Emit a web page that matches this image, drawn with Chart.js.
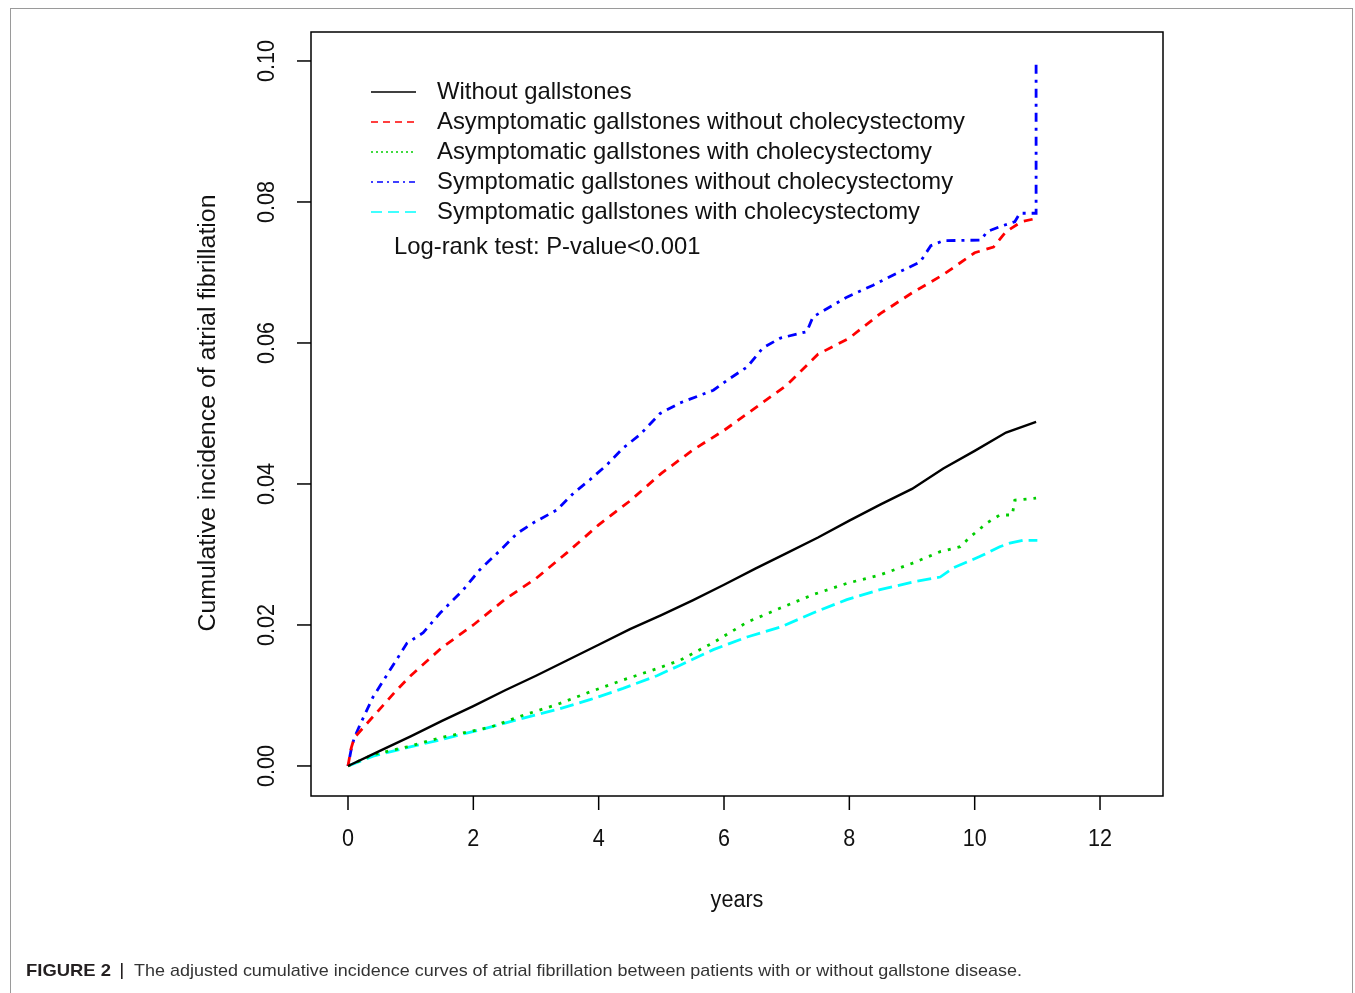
<!DOCTYPE html>
<html>
<head>
<meta charset="utf-8">
<script src="https://cdn.jsdelivr.net/npm/chart.js@4/dist/chart.umd.min.js"></script>
<style>
html,body{margin:0;padding:0;background:#fff;}
#c{position:absolute;left:0;top:0;}
</style>
</head>
<body>
<canvas id="c" width="1355" height="993"></canvas>
<script>
// ---- data ----
const seriesNames = [
  "Without gallstones",
  "Asymptomatic gallstones without cholecystectomy",
  "Asymptomatic gallstones with cholecystectomy",
  "Symptomatic gallstones without cholecystectomy",
  "Symptomatic gallstones with cholecystectomy"
];
const blackX = [0,0.5,1,1.5,2,2.5,3,3.5,4,4.5,5,5.5,6,6.5,7,7.5,8,8.5,9,9.5,10,10.5,10.98];
const blackY = [0,0.0021,0.0042,0.0064,0.0085,0.0107,0.0128,0.0150,0.0172,0.0194,0.0214,0.0235,0.0257,0.0280,0.0302,0.0324,0.0348,0.0371,0.0393,0.0422,0.0447,0.0473,0.0488];

const redX = [0,0.05,0.1,0.25,0.5,0.75,1,1.5,2,2.5,3,3.5,4,4.5,5,5.5,6,6.5,7,7.5,8,8.5,9,9.5,10,10.3,10.5,10.75,11];
const redY = [0,0.0025,0.004,0.0055,0.0080,0.0105,0.0128,0.0168,0.0200,0.0236,0.0266,0.0303,0.0342,0.0376,0.0415,0.0448,0.0476,0.0508,0.0540,0.0584,0.0607,0.0642,0.0671,0.0697,0.0728,0.0736,0.0758,0.0772,0.0777];

const greenX = [0,0.4,0.94,1.47,2.27,2.8,3.33,3.86,4.39,4.93,5.3,5.83,6.37,6.9,7.42,7.96,8.49,9.02,9.45,9.77,9.93,10.2,10.4,10.6,10.64,10.98];
const greenY = [0,0.0016,0.0027,0.004,0.0055,0.0072,0.0087,0.0105,0.0122,0.0138,0.0150,0.0175,0.0204,0.0224,0.0243,0.0259,0.0271,0.0288,0.0304,0.0311,0.0325,0.0345,0.0356,0.0356,0.0377,0.0380];

const blueX = [0,0.05,0.1,0.2,0.4,0.67,0.94,1.2,1.47,1.84,2.1,2.43,2.7,2.96,3.33,3.6,3.86,4.13,4.39,4.66,4.98,5.3,5.83,6.1,6.37,6.62,6.9,7.32,7.42,7.96,8.38,8.76,9.13,9.3,9.5,10.1,10.2,10.4,10.64,10.72,10.98,10.98];
const blueY = [0,0.0023,0.004,0.006,0.0098,0.0136,0.0174,0.0189,0.0217,0.025,0.0278,0.0306,0.033,0.0345,0.0363,0.0387,0.0406,0.0427,0.0451,0.047,0.050,0.0515,0.0533,0.055,0.0566,0.0593,0.0607,0.0616,0.0637,0.0665,0.0682,0.0699,0.0715,0.0738,0.0745,0.0746,0.0758,0.0765,0.0772,0.0784,0.0784,0.1003];

const cyanX = [0,0.4,0.94,1.47,2.27,2.8,3.33,3.86,4.39,4.93,5.3,5.83,6.37,6.9,7.42,7.96,8.49,9.02,9.45,9.66,10.08,10.4,10.56,10.77,11.0];
const cyanY = [0,0.0014,0.0026,0.0037,0.0055,0.0068,0.008,0.0094,0.011,0.0128,0.0143,0.0165,0.0183,0.0197,0.0217,0.0236,0.025,0.0261,0.0268,0.0281,0.0297,0.0311,0.0316,0.032,0.032];

const xTicks = [0,2,4,6,8,10,12];
const xTickLabels = ["0","2","4","6","8","10","12"];
const yTicks = [0,0.02,0.04,0.06,0.08,0.10];
const yTickLabels = ["0.00","0.02","0.04","0.06","0.08","0.10"];
const xTitle = "years";
const yTitle = "Cumulative incidence of atrial fibrillation";
const testText = "Log-rank test: P-value<0.001";
const captionBold = "FIGURE 2";
const captionText = "The adjusted cumulative incidence curves of atrial fibrillation between patients with or without gallstone disease.";

// ---- styles ----
const colors = ["#000000","#ff0000","#00cd00","#0000ff","#00ffff"];
const dashes = [[],[9,7],[3,7],[3,6,9,6],[14,6]];
const legendDashes = [[],[7,5],[2,3],[2,4,6,4],[11,6]];
const FONT = '"Liberation Sans", Arial, sans-serif';

function pts(xs, ys){ return xs.map((x,i)=>({x:x,y:ys[i]})); }
const seriesX = [blackX, redX, greenX, blueX, cyanX];
const seriesY = [blackY, redY, greenY, blueY, cyanY];
const datasets = seriesNames.map((n,i)=>({
  label:n,
  data: pts(seriesX[i], seriesY[i]),
  borderColor: colors[i],
  borderWidth: i===0 ? 2.4 : 2.8,
  borderDash: dashes[i],
  pointRadius: 0,
  tension: 0,
  fill: false
}));

function fitText(ctx, s, x, y, size, sx, align, bold){
  ctx.save();
  ctx.font = (bold?'bold ':'') + size + 'px ' + FONT;
  ctx.textBaseline = 'middle';
  ctx.textAlign = 'left';
  const w = ctx.measureText(s).width * sx;
  let x0 = x;
  if (align === 'center') x0 = x - w/2;
  else if (align === 'right') x0 = x - w;
  ctx.translate(x0, y);
  ctx.scale(sx, 1);
  ctx.fillText(s, 0, 0);
  ctx.restore();
  return w;
}
function widthScale(ctx, s, size, target, bold){
  ctx.save();
  ctx.font = (bold?'bold ':'') + size + 'px ' + FONT;
  const w = ctx.measureText(s).width;
  ctx.restore();
  return target / w;
}

const decor = {
  id:'decor',
  afterDraw(chart){
    const ctx = chart.ctx;
    const xs = chart.scales.x, ys = chart.scales.y;
    const a = chart.chartArea;
    ctx.save();
    // outer figure frame
    ctx.strokeStyle = '#9a9a9a';
    ctx.lineWidth = 1;
    ctx.strokeRect(10.5, 8.5, 1342, 1000);
    // plot box
    ctx.strokeStyle = '#000';
    ctx.lineWidth = 1.5;
    ctx.strokeRect(a.left, a.top, a.right - a.left, a.bottom - a.top);
    // x ticks
    ctx.fillStyle = '#111';
    const tickSx = widthScale(ctx, "10", 23, 24);
    xTicks.forEach((t,i)=>{
      const px = xs.getPixelForValue(t);
      ctx.beginPath(); ctx.moveTo(px, a.bottom); ctx.lineTo(px, a.bottom + 14); ctx.stroke();
      fitText(ctx, xTickLabels[i], px, 840, 23, tickSx, 'center');
    });
    // y ticks (rotated labels)
    yTicks.forEach((t,i)=>{
      const py = ys.getPixelForValue(t);
      ctx.beginPath(); ctx.moveTo(a.left - 14, py); ctx.lineTo(a.left, py); ctx.stroke();
      ctx.save();
      ctx.translate(268, py);
      ctx.rotate(-Math.PI/2);
      fitText(ctx, yTickLabels[i], 0, 0, 23, tickSx, 'center');
      ctx.restore();
    });
    // axis titles
    fitText(ctx, xTitle, 737, 901, 23, tickSx, 'center');
    ctx.save();
    ctx.translate(209, 413);
    ctx.rotate(-Math.PI/2);
    fitText(ctx, yTitle, 0, 0, 23, widthScale(ctx, yTitle, 23, 437), 'center');
    ctx.restore();
    // legend
    const lSx = widthScale(ctx, seriesNames[1], 24, 528);
    const rows = [92,122,152,182,212];
    seriesNames.forEach((n,i)=>{
      ctx.save();
      ctx.strokeStyle = colors[i];
      ctx.lineWidth = 1.6;
      ctx.setLineDash(legendDashes[i]);
      ctx.beginPath(); ctx.moveTo(371, rows[i]); ctx.lineTo(416, rows[i]); ctx.stroke();
      ctx.restore();
      ctx.fillStyle = '#111';
      fitText(ctx, n, 437, rows[i], 24, lSx, 'left');
    });
    fitText(ctx, testText, 394, 247, 24, lSx, 'left');
    // caption
    ctx.fillStyle = '#231f20';
    fitText(ctx, captionBold, 26, 971, 17, widthScale(ctx, captionBold, 17, 85, true), 'left', true);
    ctx.fillRect(121, 963, 1.6, 16);
    ctx.fillStyle = '#333';
    fitText(ctx, captionText, 134, 971, 17, widthScale(ctx, captionText, 17, 888), 'left');
    ctx.restore();
  }
};

new Chart(document.getElementById('c').getContext('2d'), {
  type:'line',
  data:{ datasets: datasets },
  options:{
    responsive:false,
    animation:false,
    devicePixelRatio:1,
    layout:{ padding:{ left:311, right:192, top:32, bottom:197 } },
    plugins:{ legend:{display:false}, tooltip:{enabled:false}, title:{display:false} },
    scales:{
      x:{ type:'linear', display:false, min:-0.5904, max:13.005 },
      y:{ type:'linear', display:false, min:-0.00426, max:0.10411 }
    }
  },
  plugins:[decor]
});
</script>
</body>
</html>
